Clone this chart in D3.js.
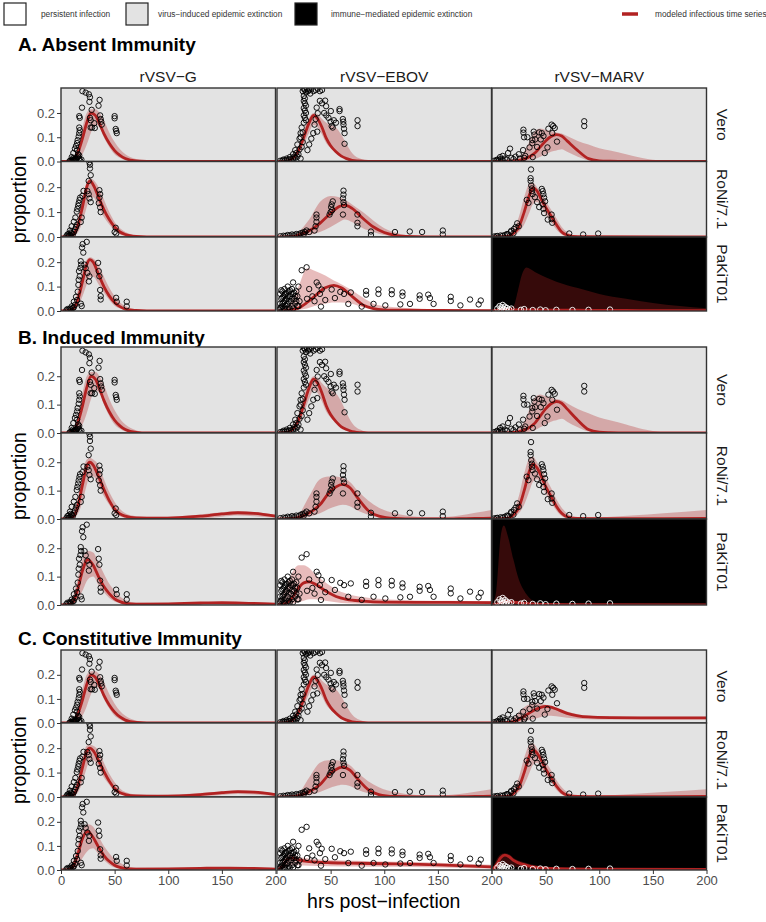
<!DOCTYPE html>
<html>
<head>
<meta charset="utf-8">
<script src="https://cdn.jsdelivr.net/npm/d3@7"></script>
<style>
  body { margin: 0; background: #fff; }
  text { font-family: "Liberation Sans", Arial, sans-serif; }
</style>
</head>
<body>
<svg id="chart" width="766" height="922"></svg>
<script>
// labels
var sections = ["A. Absent Immunity", "B. Induced Immunity", "C. Constitutive Immunity"];
var viruses = ["rVSV\u2212G", "rVSV\u2212EBOV", "rVSV\u2212MARV"];
var cells = ["Vero", "RoNi/7.1", "PaKiT01"];
var xTicks = [0, 50, 100, 150, 200];
var yTicks = [0, 0.1, 0.2];

// outcome per panel: v = virus-induced extinction, p = persistent, i = immune-mediated
var outcomeA = [["v", "v", "v"], ["v", "v", "v"], ["v", "p", "i"]];
var outcomeB = [["v", "v", "v"], ["v", "v", "v"], ["v", "p", "i"]];
var outcomeC = [["v", "v", "v"], ["v", "v", "v"], ["v", "p", "i"]];

// observed data [hrs, proportion]
var obsVeroG = [[20,0.29],[23,0.284],[26,0.277],[27,0.265],[26.5,0.246],[36,0.254],[35,0.23],[19.6,0.222],[28.6,0.213],[17,0.187],[17.5,0.18],[27,0.18],[27.7,0.17],[36.5,0.19],[37,0.175],[37.5,0.164],[38,0.152],[50,0.187],[50,0.178],[51,0.134],[51.5,0.126],[52,0.117],[17,0.14],[17.5,0.129],[17,0.117],[16.5,0.103],[15.5,0.088],[15,0.076],[14,0.064],[13,0.053],[11.5,0.035],[10,0.018],[15,0.047],[16,0.03],[17,0.012],[27.7,0.14],[29,0.14],[31,0.158],[31.5,0.138],[12,0.008],[13,0.005],[14,0.012],[18,0.002],[19,0.008],[8,0.002],[9,0.004],[10,0.003],[11,0.006],[12,0.004],[13,0.01],[14,0.008],[15,0.015],[16,0.02],[11,0.012],[17,0.025]];
var obsRoNiG = [[26.5,0.3],[27,0.29],[27,0.275],[27.7,0.248],[25.8,0.225],[35.8,0.188],[36.5,0.172],[35.8,0.158],[24.6,0.184],[25.8,0.172],[26.5,0.155],[27.7,0.14],[17.8,0.158],[17.2,0.148],[16.5,0.136],[16,0.125],[15.3,0.113],[14.7,0.102],[13.4,0.078],[12,0.061],[10,0.043],[8.4,0.026],[35.2,0.136],[36.5,0.119],[37,0.1],[51,0.037],[50,0.02],[51.5,0.014],[19.3,0.078],[18.4,0.06],[20,0.165],[21,0.185],[6,0.01],[8,0.005],[10,0.015],[12,0.02],[5,0.003],[7,0.004],[9,0.008],[11,0.01],[13,0.03],[14,0.04],[15,0.05],[9,0.018],[7,0.012]];
var obsPaKiTG = [[20.2,0.274],[24,0.283],[19.6,0.26],[20.8,0.239],[18.4,0.204],[18.8,0.19],[18.1,0.176],[16.8,0.163],[17.5,0.142],[16.5,0.128],[16.2,0.107],[24.6,0.156],[26.5,0.142],[26,0.121],[34.6,0.197],[35.2,0.163],[35.8,0.142],[36.5,0.086],[37,0.061],[37,0.047],[51.4,0.054],[52,0.038],[61.3,0.038],[61.3,0.019],[15.6,0.079],[14,0.058],[12,0.038],[10,0.019],[8.4,0.01],[19.3,0.02],[18.5,0.03],[22,0.19],[23,0.175],[5,0.003],[7,0.005],[9,0.006],[11,0.012],[13,0.025],[15,0.045],[6,0.008],[12,0.015]];
var obsVeroEBOV = [[24,0.29],[25,0.3],[26,0.295],[27,0.285],[28,0.3],[29,0.29],[30,0.295],[31,0.28],[32,0.3],[34,0.29],[36,0.295],[38,0.3],[40,0.29],[42,0.295],[25,0.27],[26,0.26],[25,0.25],[26,0.24],[27,0.23],[25,0.22],[26,0.21],[27,0.2],[25,0.19],[26,0.18],[27,0.17],[25,0.16],[44.9,0.251],[45.8,0.228],[50.2,0.208],[58.3,0.216],[58.3,0.208],[61.4,0.175],[61.8,0.164],[62,0.152],[62.5,0.135],[63,0.117],[63,0.073],[75.1,0.17],[75.1,0.146],[48,0.18],[50,0.164],[51,0.146],[52,0.14],[37,0.222],[38,0.199],[36,0.175],[35,0.152],[37.5,0.123],[23,0.14],[22,0.117],[21,0.094],[19,0.07],[17,0.047],[15,0.03],[12,0.018],[9,0.012],[6,0.008],[33.8,0.117],[32,0.094],[30,0.07],[28.4,0.047],[22,0.012],[40,0.25],[42,0.24],[44,0.2],[46,0.19],[53,0.17],[55,0.16],[3,0.003],[5,0.004],[7,0.005],[9,0.006],[11,0.008],[13,0.01],[15,0.012],[17,0.015],[19,0.02],[20,0.03],[18,0.035],[16,0.02],[21,0.05],[23,0.06],[24,0.08],[22,0.1],[24,0.12]];
var obsRoNiEBOV = [[62,0.186],[62,0.17],[61.5,0.155],[62,0.14],[62.5,0.128],[61.5,0.09],[52,0.143],[51,0.131],[50.5,0.12],[51.5,0.108],[50,0.1],[49,0.09],[36.8,0.09],[36.8,0.078],[36.8,0.061],[36,0.043],[35,0.026],[27.5,0.026],[75,0.09],[75,0.057],[75,0.043],[87.6,0.022],[87.6,0.008],[110,0.02],[123.8,0.022],[135.3,0.02],[154.6,0.026],[154.6,0.01],[6,0.005],[10,0.008],[14,0.01],[18,0.012],[22,0.015],[25,0.012],[30,0.02],[3,0.003],[8,0.004],[12,0.006],[16,0.007],[20,0.01],[24,0.018],[26,0.02]];
var obsPaKiTEBOV = [[3,0.07],[4,0.05],[5,0.03],[5,0.08],[6,0.06],[7,0.04],[7,0.09],[8,0.02],[8,0.07],[9,0.05],[10,0.1],[10,0.03],[11,0.08],[12,0.06],[12,0.01],[13,0.04],[14,0.09],[14,0.02],[15,0.117],[15,0.07],[16,0.05],[17,0.03],[18,0.08],[19,0.06],[20,0.1],[20,0.02],[21,0.04],[6,0.01],[9,0.008],[4,0.015],[3,0.03],[4,0.085],[5,0.055],[6,0.035],[7,0.065],[8,0.045],[9,0.075],[10,0.06],[11,0.04],[12,0.085],[13,0.07],[14,0.05],[16,0.075],[17,0.06],[18,0.04],[19,0.02],[2,0.005],[3,0.012],[5,0.02],[7,0.008],[11,0.015],[15,0.01],[23,0.167],[27.6,0.179],[37,0.117],[38.6,0.105],[41.7,0.088],[51,0.088],[59,0.078],[62.5,0.07],[68.8,0.076],[83.1,0.082],[83.1,0.067],[94.6,0.088],[94.6,0.07],[107,0.085],[107,0.069],[117,0.076],[117,0.062],[133,0.064],[133,0.05],[141,0.067],[142.6,0.053],[146,0.029],[162,0.058],[162,0.041],[171,0.023],[180,0.047],[190,0.043],[188,0.027],[90,0.029],[101,0.023],[115,0.027],[124,0.029],[79,0.018],[66.5,0.029],[41,0.018],[54,0.053],[30,0.09],[33,0.06],[35,0.04],[28,0.05],[45,0.045],[40,0.07]];
var obsVeroMARV = [[29.3,0.131],[29.3,0.119],[29.9,0.1],[38.9,0.123],[39.5,0.111],[40.2,0.091],[46.4,0.117],[48,0.105],[45.5,0.091],[52.6,0.135],[55.6,0.152],[57.1,0.146],[58.5,0.138],[60.6,0.082],[56.2,0.117],[51.7,0.058],[49.2,0.035],[86,0.166],[86,0.146],[16.8,0.053],[15,0.035],[10,0.023],[7.5,0.018],[29,0.047],[35,0.058],[31,0.023],[38,0.018],[37.6,0.076],[37.6,0.088],[5,0.008],[8,0.01],[12,0.012],[18,0.015],[22,0.02],[25,0.03],[33,0.1],[42,0.06],[44,0.12],[2,0.003],[4,0.005],[6,0.004],[10,0.006],[14,0.008],[20,0.01],[26,0.012],[30,0.015]];
var obsRoNiMARV = [[36.4,0.271],[36,0.236],[36,0.225],[36.6,0.207],[37.2,0.195],[37.2,0.184],[37.8,0.172],[46.4,0.193],[47.3,0.184],[47.9,0.172],[48.6,0.158],[49.5,0.143],[47.3,0.131],[47.9,0.113],[48.6,0.096],[55.6,0.09],[55.6,0.072],[56.2,0.057],[72,0.014],[85,0.01],[99,0.014],[23.5,0.055],[25,0.043],[20.5,0.032],[17.4,0.02],[12,0.008],[32.4,0.149],[34,0.137],[5,0.004],[8,0.006],[15,0.01],[20,0.015],[40,0.16],[42,0.14],[44,0.12],[52,0.07],[2,0.002],[4,0.003],[10,0.005],[14,0.012],[18,0.025],[22,0.04]];
var obsPaKiTMARV = [[5,0.01],[7,0.02],[8,0.005],[9,0.015],[10,0.025],[11,0.008],[12,0.018],[13,0.003],[14,0.012],[16,0.006],[18,0.01],[27,0.005],[30,0.008],[38,0.004],[45,0.006],[50,0.003],[60,0.005],[75,0.004],[90,0.005],[110,0.006]];

// modeled time series [hrs, median, lower, upper]
var mVeroG = [[0,0,0,0],[8,0.001,0,0.003],[12,0.01,0.002,0.02],[16,0.04,0.01,0.07],[20,0.095,0.03,0.14],[24,0.16,0.07,0.2],[28,0.2,0.12,0.215],[32,0.19,0.15,0.215],[36,0.155,0.14,0.2],[40,0.115,0.1,0.17],[45,0.075,0.06,0.12],[50,0.045,0.03,0.08],[55,0.025,0.015,0.05],[60,0.012,0.005,0.03],[70,0.002,0,0.01],[80,0,0,0.002],[200,0,0,0]];
var mVeroEBOV = [[0,0,0,0],[10,0.003,0.001,0.006],[15,0.015,0.008,0.025],[20,0.045,0.03,0.065],[25,0.1,0.07,0.13],[30,0.16,0.12,0.18],[34,0.19,0.15,0.2],[38,0.175,0.14,0.195],[42,0.14,0.11,0.175],[46,0.095,0.075,0.16],[50,0.065,0.055,0.15],[55,0.04,0.04,0.14],[60,0.022,0.025,0.11],[65,0.012,0.012,0.07],[70,0.005,0.005,0.035],[80,0.001,0,0.008],[90,0,0,0],[200,0,0,0]];
var mVeroMARV = [[0,0,0,0],[20,0.002,0,0.005],[30,0.01,0.002,0.04],[40,0.035,0.01,0.125],[45,0.06,0.02,0.136],[50,0.085,0.03,0.13],[55,0.103,0.04,0.125],[60,0.111,0.045,0.12],[65,0.105,0.05,0.115],[70,0.085,0.04,0.105],[80,0.045,0.02,0.085],[90,0.012,0.005,0.07],[100,0.003,0.001,0.055],[110,0.001,0,0.045],[125,0,0,0.03],[140,0,0,0.014],[160,0,0,0.003],[200,0,0,0]];

var mA_RoNiG = [[0,0,0,0],[8,0.002,0,0.005],[12,0.012,0.003,0.025],[16,0.05,0.02,0.08],[20,0.12,0.06,0.16],[24,0.2,0.12,0.22],[27,0.225,0.16,0.235],[30,0.21,0.16,0.23],[35,0.16,0.12,0.2],[40,0.11,0.08,0.15],[45,0.07,0.05,0.1],[50,0.04,0.025,0.06],[55,0.02,0.01,0.035],[60,0.01,0.004,0.02],[70,0.002,0,0.006],[80,0,0,0],[200,0,0,0]];
var mA_PaKiTG = [[0,0,0,0],[8,0.002,0,0.005],[12,0.012,0.003,0.03],[16,0.05,0.02,0.09],[20,0.12,0.06,0.17],[24,0.19,0.11,0.21],[27,0.21,0.14,0.22],[30,0.2,0.14,0.215],[35,0.15,0.11,0.19],[40,0.1,0.075,0.14],[45,0.062,0.045,0.095],[50,0.035,0.022,0.06],[55,0.018,0.01,0.035],[60,0.008,0.003,0.02],[70,0.002,0,0.006],[80,0,0,0],[200,0,0,0]];
var mA_RoNiEBOV = [[0,0,0,0],[15,0.002,0,0.005],[20,0.008,0.002,0.02],[30,0.025,0.008,0.07],[40,0.055,0.02,0.14],[50,0.095,0.04,0.165],[58,0.122,0.06,0.16],[63,0.128,0.07,0.15],[70,0.115,0.06,0.13],[80,0.075,0.035,0.1],[90,0.04,0.02,0.065],[100,0.018,0.008,0.035],[110,0.007,0.002,0.018],[120,0.002,0,0.008],[140,0,0,0.002],[200,0,0,0]];
var mA_PaKiTEBOV = [[0,0,0,0],[10,0.002,0,0.02],[20,0.012,0.005,0.1],[28,0.035,0.01,0.175],[35,0.06,0.02,0.165],[45,0.095,0.03,0.145],[53,0.105,0.035,0.125],[60,0.095,0.035,0.11],[70,0.06,0.03,0.085],[80,0.025,0.015,0.055],[90,0.01,0.005,0.03],[100,0.005,0.002,0.02],[120,0.003,0,0.012],[150,0.002,0,0.006],[200,0.001,0,0.003]];
var mA_RoNiMARV = [[0,0,0,0],[15,0.003,0,0.008],[20,0.015,0.005,0.03],[25,0.04,0.02,0.08],[30,0.1,0.05,0.16],[35,0.17,0.1,0.215],[38,0.197,0.13,0.218],[42,0.185,0.14,0.2],[46,0.15,0.12,0.175],[50,0.12,0.09,0.145],[55,0.085,0.06,0.11],[60,0.05,0.03,0.075],[65,0.02,0.01,0.04],[70,0.008,0.003,0.02],[80,0.001,0,0.005],[200,0,0,0]];
var mA_PaKiTMARV = [[0,0,0,0],[10,0.006,0,0.01],[20,0.005,0,0.02],[24,0.004,0,0.08],[28,0.004,0,0.15],[32,0.004,0,0.178],[40,0.004,0,0.16],[60,0.003,0,0.12],[80,0.003,0,0.094],[100,0.002,0,0.07],[125,0.002,0,0.05],[150,0.001,0,0.033],[175,0.001,0,0.02],[200,0.001,0,0.011]];

var mB_RoNiG = [[0,0,0,0],[8,0.002,0,0.005],[12,0.01,0.003,0.025],[16,0.05,0.02,0.08],[20,0.12,0.06,0.16],[24,0.185,0.12,0.21],[27,0.2,0.15,0.215],[30,0.19,0.15,0.21],[35,0.15,0.12,0.19],[40,0.105,0.08,0.14],[45,0.065,0.05,0.095],[50,0.035,0.02,0.06],[55,0.018,0.01,0.035],[60,0.01,0.004,0.02],[70,0.004,0,0.01],[90,0.003,0,0.008],[110,0.005,0,0.01],[130,0.01,0.002,0.016],[150,0.018,0.008,0.024],[165,0.022,0.012,0.027],[180,0.02,0.01,0.025],[200,0.01,0.004,0.015]];
var mB_PaKiTG = [[0,0,0,0],[8,0.002,0,0.01],[12,0.015,0.005,0.04],[16,0.06,0.02,0.1],[20,0.12,0.05,0.16],[25,0.16,0.09,0.19],[30,0.14,0.1,0.185],[35,0.1,0.07,0.15],[40,0.065,0.045,0.11],[45,0.04,0.025,0.075],[50,0.022,0.012,0.05],[55,0.012,0.006,0.03],[60,0.006,0.002,0.018],[70,0.003,0,0.008],[100,0.004,0,0.007],[130,0.007,0.002,0.01],[150,0.008,0.003,0.011],[175,0.006,0.002,0.009],[200,0.003,0,0.006]];
var mB_RoNiEBOV = [[0,0,0,0],[15,0.002,0,0.004],[20,0.006,0.002,0.015],[30,0.022,0.008,0.08],[40,0.05,0.02,0.14],[48,0.09,0.035,0.15],[55,0.113,0.045,0.15],[61,0.122,0.05,0.145],[68,0.11,0.045,0.13],[75,0.075,0.03,0.1],[85,0.03,0.015,0.065],[95,0.01,0.005,0.04],[110,0.002,0,0.02],[130,0,0,0.008],[150,0,0,0.006],[170,0.001,0,0.012],[185,0.002,0,0.022],[200,0.003,0,0.032]];
var mB_PaKiTEBOV = [[0,0,0,0],[5,0.002,0,0.03],[10,0.01,0.002,0.08],[15,0.03,0.005,0.12],[20,0.06,0.01,0.14],[25,0.078,0.015,0.14],[30,0.082,0.02,0.13],[35,0.075,0.02,0.11],[45,0.05,0.015,0.08],[55,0.03,0.01,0.055],[65,0.02,0.006,0.04],[80,0.014,0.004,0.028],[100,0.01,0.003,0.02],[130,0.009,0.002,0.016],[160,0.009,0.002,0.015],[200,0.008,0.002,0.014]];
var mB_RoNiMARV = [[0,0,0,0],[15,0.003,0,0.008],[20,0.015,0.005,0.03],[25,0.04,0.02,0.08],[30,0.1,0.05,0.16],[35,0.17,0.1,0.215],[38,0.193,0.13,0.22],[42,0.18,0.14,0.2],[46,0.15,0.12,0.175],[50,0.115,0.09,0.145],[55,0.08,0.06,0.11],[60,0.045,0.03,0.07],[65,0.02,0.01,0.04],[70,0.008,0.003,0.02],[80,0.002,0,0.006],[100,0.001,0,0.006],[130,0.001,0,0.012],[160,0.001,0,0.02],[200,0.002,0,0.032]];
var mB_PaKiTMARV = [[0,0,0,0],[4,0.002,0,0.05],[8,0.008,0,0.24],[11,0.012,0,0.28],[15,0.012,0,0.24],[20,0.01,0,0.16],[25,0.008,0,0.09],[30,0.006,0,0.05],[35,0.004,0,0.025],[40,0.003,0,0.012],[50,0.002,0,0.004],[70,0.001,0,0.001],[200,0,0,0]];

var mC_PaKiTG = [[0,0,0,0],[8,0.003,0,0.01],[12,0.02,0.005,0.05],[16,0.07,0.02,0.11],[20,0.13,0.05,0.17],[25,0.16,0.08,0.19],[30,0.135,0.09,0.18],[35,0.095,0.065,0.14],[40,0.06,0.04,0.1],[45,0.036,0.022,0.07],[50,0.02,0.01,0.045],[55,0.011,0.005,0.03],[60,0.006,0.002,0.018],[70,0.004,0,0.01],[100,0.005,0,0.008],[130,0.007,0.002,0.01],[150,0.008,0.003,0.011],[175,0.007,0.002,0.01],[200,0.004,0,0.007]];
var mC_PaKiTEBOV = [[0,0,0,0],[5,0.015,0.003,0.03],[10,0.045,0.015,0.06],[14,0.05,0.02,0.065],[20,0.042,0.02,0.055],[30,0.035,0.018,0.048],[50,0.03,0.016,0.042],[75,0.028,0.015,0.038],[100,0.026,0.013,0.035],[125,0.024,0.012,0.033],[150,0.021,0.01,0.03],[175,0.017,0.007,0.026],[200,0.013,0.005,0.022]];
var mC_VeroMARV = [[0,0,0,0],[15,0.002,0,0.006],[20,0.006,0.001,0.02],[25,0.015,0.003,0.045],[30,0.028,0.008,0.065],[35,0.042,0.012,0.078],[40,0.055,0.018,0.082],[45,0.064,0.024,0.08],[50,0.069,0.03,0.076],[55,0.066,0.03,0.07],[60,0.058,0.028,0.064],[70,0.04,0.022,0.048],[80,0.03,0.018,0.036],[90,0.025,0.016,0.03],[110,0.022,0.015,0.027],[140,0.021,0.015,0.026],[170,0.021,0.015,0.026],[200,0.021,0.015,0.026]];
var mC_PaKiTMARV = [[0,0,0,0],[4,0.02,0,0.04],[8,0.05,0.01,0.065],[12,0.062,0.02,0.07],[16,0.055,0.02,0.065],[20,0.04,0.015,0.05],[30,0.022,0.008,0.032],[40,0.012,0.004,0.02],[60,0.006,0.002,0.012],[100,0.004,0,0.008],[200,0.003,0,0.006]];

var observed = [
  [obsVeroG, obsVeroEBOV, obsVeroMARV],
  [obsRoNiG, obsRoNiEBOV, obsRoNiMARV],
  [obsPaKiTG, obsPaKiTEBOV, obsPaKiTMARV]
];
var models = [
  [[mVeroG, mVeroEBOV, mVeroMARV], [mA_RoNiG, mA_RoNiEBOV, mA_RoNiMARV], [mA_PaKiTG, mA_PaKiTEBOV, mA_PaKiTMARV]],
  [[mVeroG, mVeroEBOV, mVeroMARV], [mB_RoNiG, mB_RoNiEBOV, mB_RoNiMARV], [mB_PaKiTG, mB_PaKiTEBOV, mB_PaKiTMARV]],
  [[mVeroG, mVeroEBOV, mC_VeroMARV], [mB_RoNiG, mB_RoNiEBOV, mB_RoNiMARV], [mC_PaKiTG, mC_PaKiTEBOV, mC_PaKiTMARV]]
];
var outcomes = [outcomeA, outcomeB, outcomeC];

// layout
var svg = d3.select("#chart");
var colX = [61, 277, 492];
var colW = 214.5;
var rowEdges = [
  [88, 161.5, 237, 311],
  [347, 433, 519, 605],
  [650, 723, 797, 870]
];
var titleY = [51, 344, 645];
var bgFill = { p: "#ffffff", v: "#e3e3e3", i: "#000000" };
var red = "#b22222";

// legend
var legend = svg.append("g").attr("class", "legend");
var legendKeys = [
  { fill: "#ffffff", x: 4, label: "persistent infection", lx: 41 },
  { fill: "#e3e3e3", x: 126, label: "virus\u2212induced epidemic extinction", lx: 158 },
  { fill: "#000000", x: 295, label: "immune\u2212mediated epidemic extinction", lx: 331 }
];
legendKeys.forEach(function(k) {
  legend.append("rect")
    .attr("x", k.x).attr("y", 3).attr("width", 22).attr("height", 22)
    .attr("fill", k.fill).attr("stroke", "#222").attr("stroke-width", 1.2);
  legend.append("text")
    .attr("x", k.lx).attr("y", 17)
    .attr("font-size", "8.3px").attr("fill", "#333")
    .text(k.label);
});
legend.append("line")
  .attr("x1", 622).attr("x2", 638).attr("y1", 14).attr("y2", 14)
  .attr("stroke", red).attr("stroke-width", 3.5);
legend.append("text")
  .attr("x", 655).attr("y", 17)
  .attr("font-size", "8.3px").attr("fill", "#333")
  .text("modeled infectious time series");

sections.forEach(function(title, s) {
  svg.append("text")
    .attr("x", 18).attr("y", titleY[s])
    .attr("font-size", "19px").attr("font-weight", "bold")
    .text(title);

  var edges = rowEdges[s];

  // column strips only on the first section
  if (s === 0) {
    viruses.forEach(function(v, c) {
      svg.append("text")
        .attr("x", colX[c] + colW / 2).attr("y", 82)
        .attr("text-anchor", "middle")
        .attr("font-size", "15.5px").attr("fill", "#1a1a1a")
        .text(v);
    });
  }

  // y title
  svg.append("text")
    .attr("transform", "translate(26," + ((edges[1] + edges[2]) / 2) + ") rotate(-90)")
    .attr("text-anchor", "middle")
    .attr("font-size", "19.5px")
    .text("proportion");

  cells.forEach(function(cell, r) {
    var top = edges[r], bottom = edges[r + 1];
    var y = d3.scaleLinear().domain([0, 0.303]).range([bottom, top]);

    // row strip
    svg.append("text")
      .attr("transform", "translate(" + 717 + "," + ((top + bottom) / 2) + ") rotate(90)")
      .attr("text-anchor", "middle")
      .attr("font-size", "15.5px").attr("fill", "#1a1a1a")
      .text(cell);

    // y axis
    var yAxis = svg.append("g")
      .attr("transform", "translate(" + colX[0] + ",0)")
      .call(d3.axisLeft(y).tickValues(yTicks).tickFormat(d3.format(".1f")).tickSize(4).tickPadding(2));
    yAxis.select(".domain").remove();
    yAxis.selectAll("line").attr("stroke", "#333");
    yAxis.selectAll("text").attr("font-size", "13px").attr("fill", "#4d4d4d")
      .attr("font-family", "Liberation Sans, Arial, sans-serif");

    viruses.forEach(function(v, c) {
      var x = d3.scaleLinear().domain([0, 200]).range([colX[c], colX[c] + colW]);
      var out = outcomes[s][r][c];
      var clipId = "clip-" + s + "-" + r + "-" + c;
      svg.append("clipPath").attr("id", clipId)
        .append("rect")
        .attr("x", colX[c]).attr("y", top)
        .attr("width", colW).attr("height", bottom - top);

      var g = svg.append("g");
      g.append("rect")
        .attr("x", colX[c]).attr("y", top)
        .attr("width", colW).attr("height", bottom - top)
        .attr("fill", bgFill[out]);

      var body = g.append("g").attr("clip-path", "url(#" + clipId + ")");
      var model = models[s][r][c];

      var area = d3.area()
        .x(function(d) { return x(d[0]); })
        .y0(function(d) { return y(d[2]); })
        .y1(function(d) { return y(d[3]); })
        .curve(d3.curveMonotoneX);
      var line = d3.line()
        .x(function(d) { return x(d[0]); })
        .y(function(d) { return y(d[1]); })
        .curve(d3.curveMonotoneX);

      body.append("path").datum(model)
        .attr("d", area)
        .attr("fill", red).attr("fill-opacity", 0.3);
      body.append("path").datum(model)
        .attr("d", line)
        .attr("fill", "none").attr("stroke", red).attr("stroke-width", 2.8);

      body.selectAll("circle")
        .data(observed[r][c])
        .enter()
        .append("circle")
        .attr("cx", function(d) { return x(d[0]); })
        .attr("cy", function(d) { return y(d[1]); })
        .attr("r", 2.7)
        .attr("fill", "none")
        .attr("stroke", out === "i" ? "#ffffff" : "#000")
        .attr("stroke-width", 0.9);

      g.append("rect")
        .attr("x", colX[c]).attr("y", top)
        .attr("width", colW).attr("height", bottom - top)
        .attr("fill", "none").attr("stroke", "#333").attr("stroke-width", 1.4);

      // x axis under the last panel row; the 0 of later columns sits under the previous 200
      if (s === 2 && r === 2) {
        var ticks = c === 0 ? xTicks : xTicks.slice(1);
        var xAxis = svg.append("g")
          .attr("transform", "translate(0," + bottom + ")")
          .call(d3.axisBottom(x).tickValues(ticks).tickSize(4).tickPadding(2));
        xAxis.select(".domain").remove();
        xAxis.selectAll("line").attr("stroke", "#333");
        xAxis.selectAll("text").attr("font-size", "13px").attr("fill", "#4d4d4d")
          .attr("font-family", "Liberation Sans, Arial, sans-serif");
        if (c > 0) {
          // tick mark at the shared boundary
          xAxis.append("line")
            .attr("x1", x(0)).attr("x2", x(0)).attr("y1", 0).attr("y2", 4)
            .attr("stroke", "#333");
        }
      }
    });
  });
});

svg.append("text")
  .attr("x", (colX[0] + colX[2] + colW) / 2).attr("y", 908)
  .attr("text-anchor", "middle")
  .attr("font-size", "19.5px")
  .text("hrs post\u2212infection");
</script>
</body>
</html>
